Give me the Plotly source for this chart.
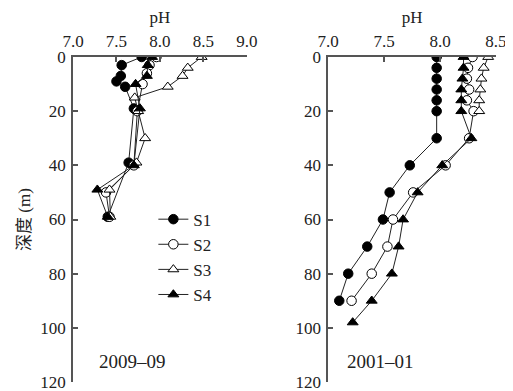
import plotly.graph_objects as go
from plotly.subplots import make_subplots

# 2009-09 panel
a_s1_depth = [0, 3, 7, 9, 11, 19, 39, 59]
a_s1_ph = [7.79, 7.56, 7.55, 7.50, 7.60, 7.70, 7.64, 7.40]
a_s2_depth = [0, 3, 6, 10, 20, 40, 50, 59]
a_s2_ph = [7.96, 7.88, 7.85, 7.80, 7.74, 7.70, 7.38, 7.42]
a_s3_depth = [0, 4, 7, 11, 15, 20, 30, 39, 49, 59]
a_s3_ph = [8.48, 8.32, 8.26, 8.09, 7.71, 7.75, 7.83, 7.73, 7.42, 7.43]
a_s4_depth = [0, 3, 7, 10, 19, 40, 49, 59]
a_s4_ph = [7.91, 7.86, 7.85, 7.72, 7.77, 7.70, 7.28, 7.40]

# 2001-01 panel
b_s1_depth = [0, 4, 8, 12, 16, 20, 30, 40, 50, 60, 70, 80, 90]
b_s1_ph = [7.97, 7.97, 7.97, 7.97, 7.97, 7.97, 7.97, 7.73, 7.55, 7.49, 7.35, 7.18, 7.10]
b_s2_depth = [0, 4, 8, 12, 16, 20, 30, 40, 50, 60, 70, 80, 90]
b_s2_ph = [8.29, 8.25, 8.24, 8.26, 8.24, 8.30, 8.26, 8.05, 7.76, 7.58, 7.53, 7.39, 7.21]
b_s3_depth = [0, 4, 8, 12, 16, 20]
b_s3_ph = [8.43, 8.39, 8.37, 8.36, 8.35, 8.35]
b_s4_depth = [0, 4, 8, 12, 16, 20, 30, 40, 50, 60, 70, 80, 90, 98]
b_s4_ph = [8.21, 8.21, 8.20, 8.19, 8.19, 8.19, 8.28, 8.02, 7.80, 7.67, 7.63, 7.57, 7.39, 7.22]

series_names = ["S1", "S2", "S3", "S4"]
y_ticks = [0, 20, 40, 60, 80, 100, 120]
panel_labels = ["2009–09", "2001–01"]

FONT = "Liberation Serif, Times New Roman, Noto Sans CJK SC, serif"
styles = {
    "S1": dict(symbol="circle", color="black", line=dict(color="black", width=1)),
    "S2": dict(symbol="circle", color="white", line=dict(color="black", width=1)),
    "S3": dict(symbol="triangle-up", color="white", line=dict(color="black", width=1)),
    "S4": dict(symbol="triangle-up", color="black", line=dict(color="black", width=1)),
}

fig = make_subplots(rows=1, cols=2, horizontal_spacing=0.19)

panel_a = [(a_s1_ph, a_s1_depth), (a_s2_ph, a_s2_depth), (a_s3_ph, a_s3_depth), (a_s4_ph, a_s4_depth)]
panel_b = [(b_s1_ph, b_s1_depth), (b_s2_ph, b_s2_depth), (b_s3_ph, b_s3_depth), (b_s4_ph, b_s4_depth)]

for col, panel in [(1, panel_a), (2, panel_b)]:
    for name, (x, y) in zip(series_names, panel):
        st = styles[name]
        fig.add_trace(go.Scatter(
            x=x, y=y, mode="lines+markers", name=name,
            showlegend=(col == 1),
            line=dict(color="#222", width=1),
            marker=dict(symbol=st["symbol"], color=st["color"], size=9.5, line=st["line"]),
        ), row=1, col=col)

axis_common = dict(
    side="top", showline=True, linecolor="#555", linewidth=1.5,
    ticks="inside", ticklen=5, tickcolor="#555", tickwidth=1.5,
    showgrid=False, zeroline=False, tickformat=".1f", dtick=0.5,
    tickfont=dict(family=FONT, size=17, color="#222"),
    ticklabelstandoff=1, ticklabeloverflow="allow", automargin=False,
    title=dict(text="pH", font=dict(family=FONT, size=17, color="#222"), standoff=6),
)
fig.update_xaxes(range=[7.0, 9.0], domain=[0.0, 0.411], **axis_common, row=1, col=1)
fig.update_xaxes(range=[7.0, 8.5], domain=[0.603, 1.0], **axis_common, row=1, col=2)

yaxis_common = dict(
    range=[120, 0], showline=True, linecolor="#555", linewidth=1.5,
    ticks="inside", ticklen=5, tickcolor="#555", tickwidth=1.5,
    showgrid=False, zeroline=False, tickvals=y_ticks,
    tickfont=dict(family=FONT, size=17, color="#222"),
    ticklabelstandoff=2, ticklabeloverflow="allow", automargin=False,
)
fig.update_yaxes(**yaxis_common, row=1, col=1)
fig.update_yaxes(**yaxis_common, row=1, col=2)
fig.update_yaxes(title=dict(text="深度 (m)", font=dict(family=FONT, size=17, color="#222"), standoff=5), row=1, col=1)

fig.add_annotation(text=panel_labels[0], xref="x", yref="y", x=7.68, y=112.5, showarrow=False,
                   font=dict(family=FONT, size=19, color="#222"))
fig.add_annotation(text=panel_labels[1], xref="x2", yref="y2", x=7.47, y=112.5, showarrow=False,
                   font=dict(family=FONT, size=19, color="#222"))

# page body adds an 8px offset, so the figure is sized/margined to compensate
fig.update_layout(
    width=505, height=383,
    margin=dict(l=65, r=17, t=49, b=9),
    paper_bgcolor="white", plot_bgcolor="white",
    showlegend=True,
    legend=dict(x=0.19, y=0.555, xanchor="left", yanchor="top", bgcolor="rgba(0,0,0,0)",
                font=dict(family=FONT, size=17, color="#222"), itemwidth=30, tracegroupgap=0),
)

fig.write_html("out.html")
